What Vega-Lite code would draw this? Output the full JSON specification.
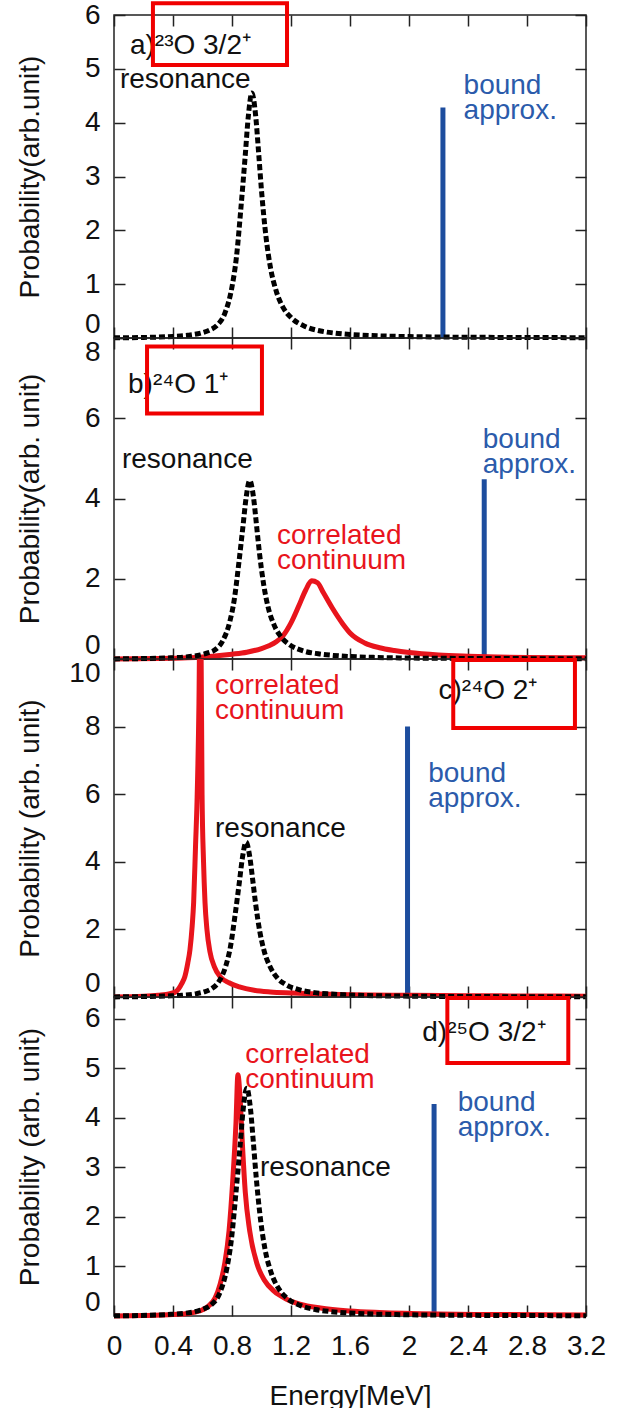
{
  "$schema": "https://vega.github.io/schema/vega-lite/v6.json",
  "padding": {"left": 15, "top": 0, "right": 0, "bottom": 0},
  "spacing": 0,
  "bounds": "flush",
  "config": {
    "view": {"stroke": "#222", "strokeWidth": 1.5},
    "font": "Liberation Sans",
    "text": {"font": "Liberation Sans", "fontSize": 28},
    "axis": {"grid": false, "domain": false, "tickSize": -11, "tickWidth": 1.5, "tickColor": "#222", "labelFont": "Liberation Sans", "labelFontSize": 28, "labelColor": "#111", "titleFont": "Liberation Sans", "titleFontSize": 28, "titleFontWeight": "normal", "titleColor": "#111"}
  },
  "datasets": {
    "resA": [{"x":0,"y":0.003},{"x":0.2,"y":0.01},{"x":0.4,"y":0.03},{"x":0.5,"y":0.05},{"x":0.6,"y":0.1},{"x":0.65,"y":0.15},{"x":0.7,"y":0.24},{"x":0.75,"y":0.45},{"x":0.8,"y":0.95},{"x":0.83,"y":1.5},{"x":0.86,"y":2.4},{"x":0.89,"y":3.4},{"x":0.91,"y":4.1},{"x":0.935,"y":4.55},{"x":0.96,"y":4.14},{"x":0.98,"y":3.46},{"x":1.0,"y":2.74},{"x":1.03,"y":1.89},{"x":1.06,"y":1.32},{"x":1.1,"y":0.87},{"x":1.15,"y":0.55},{"x":1.2,"y":0.38},{"x":1.3,"y":0.21},{"x":1.4,"y":0.13},{"x":1.5,"y":0.09},{"x":1.6,"y":0.065},{"x":1.8,"y":0.039},{"x":2.0,"y":0.026},{"x":2.4,"y":0.014},{"x":2.8,"y":0.009},{"x":3.2,"y":0.006}],
    "resB": [{"x":0,"y":0.003},{"x":0.185,"y":0.01},{"x":0.385,"y":0.03},{"x":0.485,"y":0.05},{"x":0.585,"y":0.1},{"x":0.635,"y":0.15},{"x":0.685,"y":0.23},{"x":0.735,"y":0.44},{"x":0.785,"y":0.93},{"x":0.815,"y":1.47},{"x":0.845,"y":2.35},{"x":0.875,"y":3.33},{"x":0.895,"y":4.0},{"x":0.92,"y":4.45},{"x":0.945,"y":4.05},{"x":0.965,"y":3.38},{"x":0.985,"y":2.68},{"x":1.015,"y":1.85},{"x":1.045,"y":1.29},{"x":1.085,"y":0.85},{"x":1.135,"y":0.54},{"x":1.185,"y":0.37},{"x":1.285,"y":0.2},{"x":1.385,"y":0.13},{"x":1.485,"y":0.09},{"x":1.585,"y":0.064},{"x":1.785,"y":0.038},{"x":1.985,"y":0.025},{"x":2.4,"y":0.014},{"x":2.8,"y":0.009},{"x":3.2,"y":0.006}],
    "resC": [{"x":0,"y":0.003},{"x":0.16,"y":0.01},{"x":0.36,"y":0.03},{"x":0.46,"y":0.05},{"x":0.56,"y":0.1},{"x":0.61,"y":0.15},{"x":0.66,"y":0.24},{"x":0.71,"y":0.45},{"x":0.76,"y":0.95},{"x":0.79,"y":1.5},{"x":0.82,"y":2.4},{"x":0.85,"y":3.4},{"x":0.87,"y":4.1},{"x":0.895,"y":4.58},{"x":0.92,"y":4.16},{"x":0.94,"y":3.48},{"x":0.96,"y":2.76},{"x":0.99,"y":1.9},{"x":1.02,"y":1.33},{"x":1.06,"y":0.88},{"x":1.11,"y":0.55},{"x":1.16,"y":0.38},{"x":1.26,"y":0.21},{"x":1.36,"y":0.13},{"x":1.46,"y":0.09},{"x":1.56,"y":0.065},{"x":1.76,"y":0.039},{"x":1.96,"y":0.026},{"x":2.4,"y":0.014},{"x":2.8,"y":0.009},{"x":3.2,"y":0.006}],
    "resD": [{"x":0,"y":0.003},{"x":0.165,"y":0.01},{"x":0.365,"y":0.03},{"x":0.465,"y":0.05},{"x":0.565,"y":0.1},{"x":0.615,"y":0.15},{"x":0.665,"y":0.24},{"x":0.715,"y":0.45},{"x":0.765,"y":0.96},{"x":0.795,"y":1.52},{"x":0.825,"y":2.43},{"x":0.855,"y":3.44},{"x":0.875,"y":4.15},{"x":0.9,"y":4.6},{"x":0.925,"y":4.19},{"x":0.945,"y":3.5},{"x":0.965,"y":2.77},{"x":0.995,"y":1.91},{"x":1.025,"y":1.33},{"x":1.065,"y":0.88},{"x":1.115,"y":0.56},{"x":1.165,"y":0.38},{"x":1.265,"y":0.21},{"x":1.365,"y":0.13},{"x":1.465,"y":0.09},{"x":1.565,"y":0.066},{"x":1.765,"y":0.039},{"x":1.965,"y":0.026},{"x":2.4,"y":0.014},{"x":2.8,"y":0.009},{"x":3.2,"y":0.006}],
    "conB": [{"x":0,"y":0.0},{"x":0.3,"y":0.01},{"x":0.5,"y":0.03},{"x":0.6,"y":0.05},{"x":0.7,"y":0.08},{"x":0.8,"y":0.12},{"x":0.9,"y":0.17},{"x":1.0,"y":0.26},{"x":1.05,"y":0.33},{"x":1.1,"y":0.43},{"x":1.15,"y":0.6},{"x":1.2,"y":0.9},{"x":1.25,"y":1.3},{"x":1.3,"y":1.72},{"x":1.34,"y":1.95},{"x":1.38,"y":1.9},{"x":1.42,"y":1.65},{"x":1.48,"y":1.27},{"x":1.55,"y":0.88},{"x":1.6,"y":0.65},{"x":1.7,"y":0.4},{"x":1.8,"y":0.28},{"x":1.9,"y":0.21},{"x":2.0,"y":0.16},{"x":2.2,"y":0.1},{"x":2.4,"y":0.07},{"x":2.6,"y":0.05},{"x":2.8,"y":0.04},{"x":3.2,"y":0.03}],
    "conC": [{"x":0,"y":0.0},{"x":0.2,"y":0.02},{"x":0.3,"y":0.05},{"x":0.38,"y":0.1},{"x":0.42,"y":0.16},{"x":0.46,"y":0.4},{"x":0.48,"y":0.6},{"x":0.5,"y":1.0},{"x":0.515,"y":1.4},{"x":0.53,"y":2.1},{"x":0.54,"y":2.8},{"x":0.553,"y":4.5},{"x":0.563,"y":5.8},{"x":0.576,"y":8.7},{"x":0.583,"y":11.5},{"x":0.59,"y":10.5},{"x":0.597,"y":6.0},{"x":0.607,"y":4.0},{"x":0.617,"y":2.8},{"x":0.63,"y":2.0},{"x":0.65,"y":1.35},{"x":0.68,"y":0.9},{"x":0.72,"y":0.6},{"x":0.78,"y":0.42},{"x":0.85,"y":0.3},{"x":0.95,"y":0.2},{"x":1.06,"y":0.15},{"x":1.2,"y":0.12},{"x":1.4,"y":0.09},{"x":1.6,"y":0.07},{"x":2.0,"y":0.05},{"x":2.4,"y":0.04},{"x":2.8,"y":0.03},{"x":3.2,"y":0.025}],
    "conD": [{"x":0,"y":0.0},{"x":0.2,"y":0.01},{"x":0.4,"y":0.03},{"x":0.5,"y":0.05},{"x":0.58,"y":0.1},{"x":0.64,"y":0.2},{"x":0.685,"y":0.36},{"x":0.72,"y":0.65},{"x":0.75,"y":1.05},{"x":0.78,"y":1.72},{"x":0.805,"y":2.73},{"x":0.827,"y":3.9},{"x":0.84,"y":4.87},{"x":0.855,"y":4.4},{"x":0.87,"y":3.5},{"x":0.89,"y":2.5},{"x":0.92,"y":1.72},{"x":0.97,"y":1.05},{"x":1.02,"y":0.72},{"x":1.085,"y":0.5},{"x":1.17,"y":0.34},{"x":1.26,"y":0.24},{"x":1.4,"y":0.16},{"x":1.6,"y":0.1},{"x":1.8,"y":0.07},{"x":2.2,"y":0.04},{"x":2.6,"y":0.03},{"x":3.2,"y":0.02}],
    "bound": [{"panel":"a","x":2.23,"y":4.28},{"panel":"b","x":2.51,"y":4.48},{"panel":"c","x":1.99,"y":8.0},{"panel":"d","x":2.17,"y":4.28}],
    "labels": [
      {"panel":"a","kind":"black","x":0.108,"y":5.27,"text":"a)²³O 3/2⁺"},
      {"panel":"a","kind":"black","x":0.04,"y":4.64,"text":"resonance"},
      {"panel":"a","kind":"blue","x":2.37,"y":4.54,"text":["bound","approx."]},
      {"panel":"b","kind":"black","x":0.095,"y":6.62,"text":"b)²⁴O 1⁺"},
      {"panel":"b","kind":"black","x":0.054,"y":4.75,"text":"resonance"},
      {"panel":"b","kind":"red","x":1.105,"y":2.86,"text":["correlated","continuum"]},
      {"panel":"b","kind":"blue","x":2.5,"y":5.25,"text":["bound","approx."]},
      {"panel":"c","kind":"black","x":2.2,"y":8.82,"text":"c)²⁴O 2⁺"},
      {"panel":"c","kind":"black","x":0.685,"y":4.73,"text":"resonance"},
      {"panel":"c","kind":"red","x":0.685,"y":8.96,"text":["correlated","continuum"]},
      {"panel":"c","kind":"blue","x":2.13,"y":6.36,"text":["bound","approx."]},
      {"panel":"d","kind":"black","x":2.09,"y":5.56,"text":"d)²⁵O 3/2⁺"},
      {"panel":"d","kind":"black","x":0.99,"y":2.83,"text":"resonance"},
      {"panel":"d","kind":"red","x":0.89,"y":5.11,"text":["correlated","continuum"]},
      {"panel":"d","kind":"blue","x":2.33,"y":4.14,"text":["bound","approx."]}
    ],
    "boxes": [
      {"panel":"a","x":0.264,"x2":1.173,"y":5.07,"y2":6.22},
      {"panel":"b","x":0.224,"x2":1.003,"y":6.12,"y2":7.79},
      {"panel":"c","x":2.3,"x2":3.125,"y":7.96,"y2":9.97},
      {"panel":"d","x":2.26,"x2":3.08,"y":5.11,"y2":6.42}
    ]
  },
  "vconcat": [
    {
      "width": 472, "height": 323,
      "resolve": {"axis": {"x": "independent", "y": "independent"}},
      "layer": [
        {
          "data": {"name": "bound"},
          "transform": [{"filter": "datum.panel === 'a'"}],
          "mark": {"type": "rule", "color": "#1d4d9e", "strokeWidth": 5},
          "encoding": {
            "x": {"field": "x", "type": "quantitative", "scale": {"domain": [0, 3.2], "nice": false, "zero": false},
                  "axis": {"orient": "bottom", "values": [0,0.4,0.8,1.2,1.6,2,2.4,2.8,3.2], "labels": false, "title": null}},
            "y": {"field": "y", "type": "quantitative", "scale": {"domain": [0, 6], "nice": false},
                  "axis": {"orient": "left", "values": [0,1,2,3,4,5,6], "format": "d", "labelPadding": 25, "title": "Probability(arb.unit)", "titleX": -76, "titleBaseline": "alphabetic",
                           "labelBaseline": {"condition": {"test": "datum.value === 0", "value": "bottom"}, "value": "middle"}}},
            "y2": {"datum": 0}
          }
        },
        {
          "data": {"name": "resA"},
          "mark": {"type": "line", "color": "#000", "strokeWidth": 5, "strokeDash": [6, 3], "interpolate": "monotone"},
          "encoding": {
            "x": {"field": "x", "type": "quantitative", "axis": {"orient": "top", "values": [0,0.4,0.8,1.2,1.6,2,2.4,2.8,3.2], "labels": false, "title": null}},
            "y": {"field": "y", "type": "quantitative", "axis": {"orient": "right", "values": [0,1,2,3,4,5,6], "labels": false, "title": null}}
          }
        },
        {
          "data": {"name": "labels"},
          "transform": [{"filter": "datum.panel === 'a' && datum.kind === 'black'"}],
          "mark": {"type": "text", "align": "left", "baseline": "alphabetic", "color": "#111", "lineHeight": 25},
          "encoding": {"x": {"field": "x", "type": "quantitative", "axis": null}, "y": {"field": "y", "type": "quantitative", "axis": null}, "text": {"field": "text"}}
        },
        {
          "data": {"name": "labels"},
          "transform": [{"filter": "datum.panel === 'a' && datum.kind === 'blue'"}],
          "mark": {"type": "text", "align": "left", "baseline": "alphabetic", "color": "#2b5bab", "lineHeight": 25},
          "encoding": {"x": {"field": "x", "type": "quantitative", "axis": null}, "y": {"field": "y", "type": "quantitative", "axis": null}, "text": {"field": "text"}}
        },
        {
          "data": {"name": "boxes"},
          "transform": [{"filter": "datum.panel === 'a'"}],
          "mark": {"type": "rect", "fillOpacity": 0, "stroke": "#f00000", "strokeWidth": 4},
          "encoding": {"x": {"field": "x", "type": "quantitative", "axis": null}, "x2": {"field": "x2"}, "y": {"field": "y", "type": "quantitative", "axis": null}, "y2": {"field": "y2"}}
        }
      ]
    },
    {
      "width": 472, "height": 321,
      "resolve": {"axis": {"x": "independent", "y": "independent"}},
      "layer": [
        {
          "data": {"name": "bound"},
          "transform": [{"filter": "datum.panel === 'b'"}],
          "mark": {"type": "rule", "color": "#1d4d9e", "strokeWidth": 5},
          "encoding": {
            "x": {"field": "x", "type": "quantitative", "scale": {"domain": [0, 3.2], "nice": false, "zero": false},
                  "axis": {"orient": "bottom", "values": [0,0.4,0.8,1.2,1.6,2,2.4,2.8,3.2], "labels": false, "title": null}},
            "y": {"field": "y", "type": "quantitative", "scale": {"domain": [0, 8], "nice": false},
                  "axis": {"orient": "left", "values": [0,2,4,6,8], "format": "d", "labelPadding": 25, "title": "Probability(arb. unit)", "titleX": -76, "titleBaseline": "alphabetic",
                           "labelBaseline": {"condition": [{"test": "datum.value === 0", "value": "bottom"}, {"test": "datum.value === 8", "value": "top"}], "value": "middle"}}},
            "y2": {"datum": 0}
          }
        },
        {
          "data": {"name": "conB"},
          "mark": {"type": "line", "color": "#e8141c", "strokeWidth": 5, "interpolate": "monotone"},
          "encoding": {
            "x": {"field": "x", "type": "quantitative", "axis": {"orient": "top", "values": [0,0.4,0.8,1.2,1.6,2,2.4,2.8,3.2], "labels": false, "title": null}},
            "y": {"field": "y", "type": "quantitative", "axis": {"orient": "right", "values": [0,2,4,6,8], "labels": false, "title": null}}
          }
        },
        {
          "data": {"name": "resB"},
          "mark": {"type": "line", "color": "#000", "strokeWidth": 5, "strokeDash": [6, 3], "interpolate": "monotone"},
          "encoding": {"x": {"field": "x", "type": "quantitative", "axis": null}, "y": {"field": "y", "type": "quantitative", "axis": null}}
        },
        {
          "data": {"name": "labels"},
          "transform": [{"filter": "datum.panel === 'b' && datum.kind === 'black'"}],
          "mark": {"type": "text", "align": "left", "baseline": "alphabetic", "color": "#111", "lineHeight": 25},
          "encoding": {"x": {"field": "x", "type": "quantitative", "axis": null}, "y": {"field": "y", "type": "quantitative", "axis": null}, "text": {"field": "text"}}
        },
        {
          "data": {"name": "labels"},
          "transform": [{"filter": "datum.panel === 'b' && datum.kind === 'red'"}],
          "mark": {"type": "text", "align": "left", "baseline": "alphabetic", "color": "#e8141c", "lineHeight": 25},
          "encoding": {"x": {"field": "x", "type": "quantitative", "axis": null}, "y": {"field": "y", "type": "quantitative", "axis": null}, "text": {"field": "text"}}
        },
        {
          "data": {"name": "labels"},
          "transform": [{"filter": "datum.panel === 'b' && datum.kind === 'blue'"}],
          "mark": {"type": "text", "align": "left", "baseline": "alphabetic", "color": "#2b5bab", "lineHeight": 25},
          "encoding": {"x": {"field": "x", "type": "quantitative", "axis": null}, "y": {"field": "y", "type": "quantitative", "axis": null}, "text": {"field": "text"}}
        },
        {
          "data": {"name": "boxes"},
          "transform": [{"filter": "datum.panel === 'b'"}],
          "mark": {"type": "rect", "fillOpacity": 0, "stroke": "#f00000", "strokeWidth": 4},
          "encoding": {"x": {"field": "x", "type": "quantitative", "axis": null}, "x2": {"field": "x2"}, "y": {"field": "y", "type": "quantitative", "axis": null}, "y2": {"field": "y2"}}
        }
      ]
    },
    {
      "width": 472, "height": 338,
      "resolve": {"axis": {"x": "independent", "y": "independent"}},
      "layer": [
        {
          "data": {"name": "bound"},
          "transform": [{"filter": "datum.panel === 'c'"}],
          "mark": {"type": "rule", "color": "#1d4d9e", "strokeWidth": 5},
          "encoding": {
            "x": {"field": "x", "type": "quantitative", "scale": {"domain": [0, 3.2], "nice": false, "zero": false},
                  "axis": {"orient": "bottom", "values": [0,0.4,0.8,1.2,1.6,2,2.4,2.8,3.2], "labels": false, "title": null}},
            "y": {"field": "y", "type": "quantitative", "scale": {"domain": [0, 10], "nice": false},
                  "axis": {"orient": "left", "values": [0,2,4,6,8,10], "format": "d", "labelPadding": 25, "title": "Probability (arb. unit)", "titleX": -76, "titleBaseline": "alphabetic",
                           "labelBaseline": {"condition": [{"test": "datum.value === 0", "value": "bottom"}, {"test": "datum.value === 10", "value": "top"}], "value": "middle"}}},
            "y2": {"datum": 0}
          }
        },
        {
          "data": {"name": "conC"},
          "mark": {"type": "line", "color": "#e8141c", "strokeWidth": 5, "interpolate": "monotone", "clip": true},
          "encoding": {
            "x": {"field": "x", "type": "quantitative", "axis": {"orient": "top", "values": [0,0.4,0.8,1.2,1.6,2,2.4,2.8,3.2], "labels": false, "title": null}},
            "y": {"field": "y", "type": "quantitative", "axis": {"orient": "right", "values": [0,2,4,6,8,10], "labels": false, "title": null}}
          }
        },
        {
          "data": {"name": "resC"},
          "mark": {"type": "line", "color": "#000", "strokeWidth": 5, "strokeDash": [6, 3], "interpolate": "monotone"},
          "encoding": {"x": {"field": "x", "type": "quantitative", "axis": null}, "y": {"field": "y", "type": "quantitative", "axis": null}}
        },
        {
          "data": {"name": "labels"},
          "transform": [{"filter": "datum.panel === 'c' && datum.kind === 'black'"}],
          "mark": {"type": "text", "align": "left", "baseline": "alphabetic", "color": "#111", "lineHeight": 25},
          "encoding": {"x": {"field": "x", "type": "quantitative", "axis": null}, "y": {"field": "y", "type": "quantitative", "axis": null}, "text": {"field": "text"}}
        },
        {
          "data": {"name": "labels"},
          "transform": [{"filter": "datum.panel === 'c' && datum.kind === 'red'"}],
          "mark": {"type": "text", "align": "left", "baseline": "alphabetic", "color": "#e8141c", "lineHeight": 25},
          "encoding": {"x": {"field": "x", "type": "quantitative", "axis": null}, "y": {"field": "y", "type": "quantitative", "axis": null}, "text": {"field": "text"}}
        },
        {
          "data": {"name": "labels"},
          "transform": [{"filter": "datum.panel === 'c' && datum.kind === 'blue'"}],
          "mark": {"type": "text", "align": "left", "baseline": "alphabetic", "color": "#2b5bab", "lineHeight": 25},
          "encoding": {"x": {"field": "x", "type": "quantitative", "axis": null}, "y": {"field": "y", "type": "quantitative", "axis": null}, "text": {"field": "text"}}
        },
        {
          "data": {"name": "boxes"},
          "transform": [{"filter": "datum.panel === 'c'"}],
          "mark": {"type": "rect", "fillOpacity": 0, "stroke": "#f00000", "strokeWidth": 4},
          "encoding": {"x": {"field": "x", "type": "quantitative", "axis": null}, "x2": {"field": "x2"}, "y": {"field": "y", "type": "quantitative", "axis": null}, "y2": {"field": "y2"}}
        }
      ]
    },
    {
      "width": 472, "height": 319,
      "resolve": {"axis": {"x": "independent", "y": "independent"}},
      "layer": [
        {
          "data": {"name": "bound"},
          "transform": [{"filter": "datum.panel === 'd'"}],
          "mark": {"type": "rule", "color": "#1d4d9e", "strokeWidth": 5},
          "encoding": {
            "x": {"field": "x", "type": "quantitative", "scale": {"domain": [0, 3.2], "nice": false, "zero": false},
                  "axis": {"orient": "bottom", "values": [0,0.4,0.8,1.2,1.6,2,2.4,2.8,3.2], "format": "~g", "labelFlush": false, "labelPadding": 27, "title": "Energy[MeV]", "titleY": 88, "titleBaseline": "alphabetic"}},
            "y": {"field": "y", "type": "quantitative", "scale": {"domain": [0, 6.44], "nice": false},
                  "axis": {"orient": "left", "values": [0,1,2,3,4,5,6], "format": "d", "labelPadding": 25, "title": "Probability (arb. unit)", "titleX": -76, "titleBaseline": "alphabetic",
                           "labelBaseline": {"condition": {"test": "datum.value === 0", "value": "bottom"}, "value": "middle"}}},
            "y2": {"datum": 0}
          }
        },
        {
          "data": {"name": "conD"},
          "mark": {"type": "line", "color": "#e8141c", "strokeWidth": 5, "interpolate": "monotone"},
          "encoding": {
            "x": {"field": "x", "type": "quantitative", "axis": {"orient": "top", "values": [0,0.4,0.8,1.2,1.6,2,2.4,2.8,3.2], "labels": false, "title": null}},
            "y": {"field": "y", "type": "quantitative", "axis": {"orient": "right", "values": [0,1,2,3,4,5,6], "labels": false, "title": null}}
          }
        },
        {
          "data": {"name": "resD"},
          "mark": {"type": "line", "color": "#000", "strokeWidth": 5, "strokeDash": [6, 3], "interpolate": "monotone"},
          "encoding": {"x": {"field": "x", "type": "quantitative", "axis": null}, "y": {"field": "y", "type": "quantitative", "axis": null}}
        },
        {
          "data": {"name": "labels"},
          "transform": [{"filter": "datum.panel === 'd' && datum.kind === 'black'"}],
          "mark": {"type": "text", "align": "left", "baseline": "alphabetic", "color": "#111", "lineHeight": 25},
          "encoding": {"x": {"field": "x", "type": "quantitative", "axis": null}, "y": {"field": "y", "type": "quantitative", "axis": null}, "text": {"field": "text"}}
        },
        {
          "data": {"name": "labels"},
          "transform": [{"filter": "datum.panel === 'd' && datum.kind === 'red'"}],
          "mark": {"type": "text", "align": "left", "baseline": "alphabetic", "color": "#e8141c", "lineHeight": 25},
          "encoding": {"x": {"field": "x", "type": "quantitative", "axis": null}, "y": {"field": "y", "type": "quantitative", "axis": null}, "text": {"field": "text"}}
        },
        {
          "data": {"name": "labels"},
          "transform": [{"filter": "datum.panel === 'd' && datum.kind === 'blue'"}],
          "mark": {"type": "text", "align": "left", "baseline": "alphabetic", "color": "#2b5bab", "lineHeight": 25},
          "encoding": {"x": {"field": "x", "type": "quantitative", "axis": null}, "y": {"field": "y", "type": "quantitative", "axis": null}, "text": {"field": "text"}}
        },
        {
          "data": {"name": "boxes"},
          "transform": [{"filter": "datum.panel === 'd'"}],
          "mark": {"type": "rect", "fillOpacity": 0, "stroke": "#f00000", "strokeWidth": 4},
          "encoding": {"x": {"field": "x", "type": "quantitative", "axis": null}, "x2": {"field": "x2"}, "y": {"field": "y", "type": "quantitative", "axis": null}, "y2": {"field": "y2"}}
        }
      ]
    }
  ]
}
